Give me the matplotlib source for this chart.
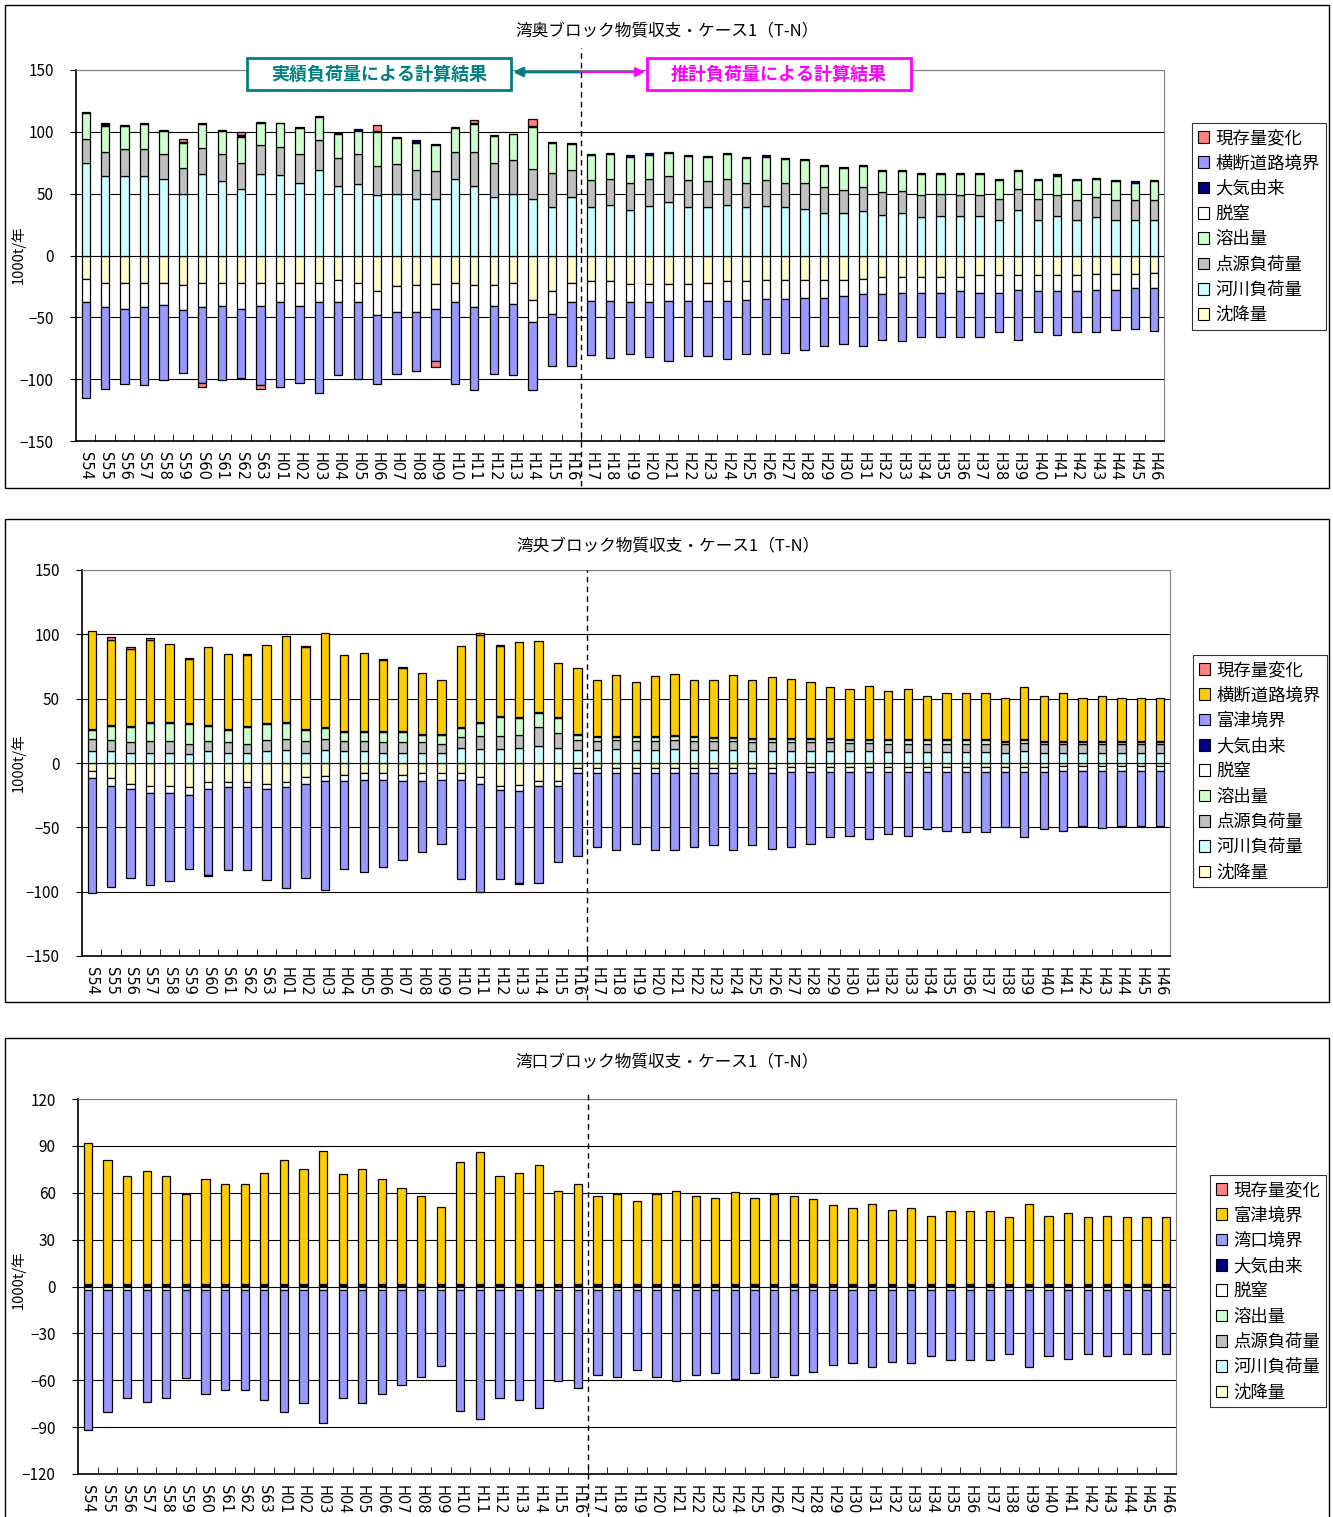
import numpy as np
import matplotlib
matplotlib.use("Agg")
import matplotlib.pyplot as plt
from matplotlib.patches import Patch, Rectangle

plt.rcParams["font.family"] = ["Noto Sans CJK JP", "DejaVu Sans"]

W, H = 1333, 1517

years = ["S54", "S55", "S56", "S57", "S58", "S59", "S60", "S61", "S62", "S63",
         "H01", "H02", "H03", "H04", "H05", "H06", "H07", "H08", "H09", "H10",
         "H11", "H12", "H13", "H14", "H15", "H16", "H17", "H18", "H19", "H20",
         "H21", "H22", "H23", "H24", "H25", "H26", "H27", "H28", "H29", "H30",
         "H31", "H32", "H33", "H34", "H35", "H36", "H37", "H38", "H39", "H40",
         "H41", "H42", "H43", "H44", "H45", "H46"]
split_after = "H16"   # 実績 / 推計 の境目

# ---- 湾奥ブロック ----
kasen1 = [75, 64, 64, 64, 62, 50, 66, 60, 54, 66, 65, 59, 69, 56, 58, 49, 50, 46, 46, 62, 56, 47, 50, 46, 39, 47,
          39, 41, 37, 40, 43, 39, 39, 41, 39, 40, 39, 38, 34, 34, 36, 33, 34, 31, 32, 32, 32, 29, 37, 29, 32, 29, 31, 29, 29, 29]
tengen1 = [19, 20, 22, 22, 20, 21, 21, 22, 21, 23, 23, 23, 24, 23, 24, 23, 24, 23, 22, 22, 28, 28, 27, 24, 28, 22,
           22, 21, 22, 22, 21, 22, 21, 21, 20, 21, 20, 21, 21, 19, 19, 18, 18, 18, 18, 17, 17, 17, 17, 17, 17, 16, 16, 16, 16, 16]
yoshutsu1 = [21, 21, 19, 20, 19, 20, 19, 19, 21, 18, 19, 21, 19, 19, 19, 28, 21, 22, 21, 19, 22, 22, 21, 34, 24, 21,
             20, 20, 21, 19.5, 19, 19.5, 19.5, 20, 20, 19, 19, 18, 17.5, 17.5, 17.5, 17, 16, 17, 16, 17, 17, 15, 14.5, 15,
             15.5, 16, 15, 15, 14, 15]
taiki1 = [1, 1, 0.5, 1, 0.5, 1, 1, 0.5, 1.5, 1, 0.5, 1, 0.5, 1, 1, 0.5, 1, 2, 1, 1, 1.5, 0.5, 0.5, 0.5, 1, 1,
          1, 1, 1, 1, 1, 1, 1, 1, 1, 1, 1, 1, 1, 1, 1, 1, 1, 1, 1, 1, 1, 1, 1, 1, 1, 1, 1, 1, 1, 1]
genzon1 = [0, 1, 0, 0, 0, 2, -3, 0, 2, -3, 0, 0, 0, 0, 0, 5, 0, 0, -5, 0, 2, 0, 0, 6, 0, 0,
           0, 0, 0, 0, 0, 0, 0, 0, 0, 0, 0, 0, 0, 0, 0, 0, 0, 0, 0, 0, 0, 0, 0, 0, 0, 0, 0, 0, 0, 0]
chinko1 = [-19, -22, -22, -22, -22, -24, -22, -22, -22, -22, -22, -22, -22, -20, -22, -29, -25, -24, -23, -22, -24, -24,
           -22, -36, -29, -22,
           -21, -21, -23, -23, -23, -23, -22, -21, -21, -20, -20, -20, -20, -20, -19, -17, -17, -17, -17, -17, -16, -16,
           -16, -16, -16, -16, -15, -15, -15, -14]
dacchitsu1 = [-19, -20, -21, -20, -18, -20, -20, -19, -21, -19, -16, -19, -16, -18, -16, -19, -21, -22, -20, -16, -18, -17,
              -17, -18, -18, -16,
              -16, -16, -15, -15, -14, -14, -15, -16, -15, -15, -15, -14, -14, -12.5, -12.5, -14, -13, -13, -13, -12, -14,
              -14, -11.5, -13, -13, -13, -12.5, -12.5, -11.5, -12.5]
oudan1 = [-77, -66, -61, -63, -61, -51, -61, -60, -56, -64, -68, -62, -73, -59, -62, -56, -50, -47, -42, -66, -67, -55,
          -58, -55, -42, -51,
          -43.5, -46, -42, -44, -48, -44, -44, -46.5, -44, -45, -43.5, -42.5, -39, -39, -41.5, -37.5, -39, -35.5, -35.5,
          -36.5, -35.5, -32, -41, -33, -35, -33, -34.5, -33, -33, -34.5]

# ---- 湾央ブロック ----
kasen2 = [9, 9, 8, 8, 8, 7, 9, 8, 8, 9, 10, 8, 10, 9, 9, 8, 8, 8, 7.5, 12, 11, 11, 12, 13, 12, 10,
          10, 10.5, 10, 10, 10.5, 10, 10, 10, 9.5, 9.5, 9.5, 9.5, 9, 9, 9, 8.5, 8.5, 8.5, 8.5, 8.5, 8.5, 8, 9, 8,
          8, 8, 8, 8, 8, 8]
tengen2 = [10, 9, 8, 9, 9, 8, 8, 8, 7, 9, 9, 9, 9, 8, 8, 8, 8, 8, 7.5, 8, 10, 10, 10, 15, 11, 8,
           7, 7, 7, 7, 7, 7, 7, 7, 7, 7, 7, 7, 7, 6.5, 6.5, 6.5, 6.5, 6.5, 6.5, 6.5, 6.5, 6.5, 6.5, 6.5, 6.5, 6.5,
           6.5, 6.5, 6.5, 6.5]
yoshutsu2 = [7, 11, 12, 14, 14, 15, 12, 10, 13, 12, 12, 9, 8, 7, 7, 8, 8, 6, 7, 7, 10, 15, 13, 11, 12, 4,
             3, 3, 3, 3, 3.5, 3, 2.5, 2.5, 2.5, 2.5, 2.5, 2.5, 2.5, 2.5, 2.5, 2.5, 2.5, 2.5, 2.5, 2.5, 2.5, 2, 2, 2,
             2, 2, 2, 2, 2, 2]
taiki2 = [0.8, 0.8, 0.8, 0.8, 0.8, 0.8, 0.8, 0.8, 0.8, 1, 0.8, 0.8, 0.8, 0.8, 0.8, 0.8, 0.8, 0.8, 0.8, 0.8, 0.8, 0.8,
          0.8, 1, 0.8, 0.8,
          0.8, 0.8, 0.8, 1, 0.8, 0.8, 0.8, 0.8, 0.8, 0.8, 0.8, 0.8, 0.8, 0.8, 0.8, 0.8, 0.8, 0.8, 0.8, 0.8, 0.8, 0.8,
          0.8, 0.8, 0.8, 0.8, 0.8, 0.8, 0.8, 0.8]
oudan2 = [76, 66, 60, 64, 61, 50, 60, 58, 55, 61, 67, 63, 73, 59, 61, 55, 49, 47, 42, 63, 68, 54, 58, 55, 42, 51,
          44, 47, 42, 47, 47, 44, 44.5, 48, 44.5, 47, 45.5, 43.5, 39.5, 38.5, 41, 38, 39.5, 34, 36, 36, 36, 33.5, 41,
          34.5, 37, 33.5, 34.5, 33.5, 33.5, 33.5]
genzon2 = [0, 2, 1, 1, 0, 1, -1, 0, 1, 0, 0, 1, 0, 0, 0, 1, 1, 0, 0, 0, 1, 1, -1, 0, 0, 0,
           0, 0, 0, 0, 0, 0, 0, 0, 0, 0, 0, 0, 0, 0, 0, 0, 0, 0, 0, 0, 0, 0, 0, 0, 0, 0, 0, 0, 0, 0]
chinko2 = [-6, -12, -16, -18, -18, -19, -15, -15, -15, -16, -15, -11, -10, -9, -8, -8, -9, -8, -8, -8, -11, -18, -17,
           -14, -14, -4,
           -3.5, -3.5, -3.5, -3.5, -3.5, -3.5, -3.5, -3.5, -3.5, -3.5, -3, -3, -3, -3, -3, -3, -3, -3, -3, -3, -3, -3,
           -3, -3, -2.5, -2.5, -2.5, -2.5, -2.5, -2.5]
dacchitsu2 = [-6, -6, -4, -5, -5, -6, -5, -4, -4, -4, -4, -5, -4, -5, -5, -5, -5, -6, -5, -5, -5, -3, -5, -4, -4, -4,
              -4.5, -4.5, -4.5, -4.5, -4.5, -4.5, -4.5, -4.5, -4.5, -4.5, -4, -4, -4, -4, -4, -4, -4, -4, -4, -4, -4,
              -4, -4, -4, -4, -4, -4, -4, -4, -4]
futtsu2 = [-89, -78, -69, -72, -69, -57, -67, -64, -64, -71, -78, -73, -85, -68, -72, -68, -61, -55, -50, -77, -84, -69,
           -71, -75, -59, -64,
           -57, -59.5, -55, -59.5, -60, -57, -55.5, -59.5, -55.5, -58.5, -58, -56, -50.5, -49.5, -52, -48.5, -49.5,
           -44, -46, -46.5, -46.5, -42.5, -50.5, -44, -46.5, -42.5, -44, -42.5, -42.5, -42.5]

# ---- 湾口ブロック ----
kasen3 = [0.4, 0.4, 0.4, 0.4, 0.4, 0.4, 0.4, 0.4, 0.4, 0.4, 0.4, 0.4, 0.4, 0.4, 0.4, 0.4, 0.4, 0.4, 0.4, 0.4,
          0.4, 0.4, 0.4, 0.4, 0.4, 0.4, 0.4, 0.4, 0.4, 0.4, 0.4, 0.4, 0.4, 0.4, 0.4, 0.4, 0.4, 0.4, 0.4, 0.4,
          0.4, 0.4, 0.4, 0.4, 0.4, 0.4, 0.4, 0.4, 0.4, 0.4, 0.4, 0.4, 0.4, 0.4, 0.4, 0.4]
tengen3 = [0.3, 0.3, 0.3, 0.3, 0.3, 0.3, 0.3, 0.3, 0.3, 0.3, 0.3, 0.3, 0.3, 0.3, 0.3, 0.3, 0.3, 0.3, 0.3, 0.3,
           0.3, 0.3, 0.3, 0.3, 0.3, 0.3, 0.3, 0.3, 0.3, 0.3, 0.3, 0.3, 0.3, 0.3, 0.3, 0.3, 0.3, 0.3, 0.3, 0.3,
           0.3, 0.3, 0.3, 0.3, 0.3, 0.3, 0.3, 0.3, 0.3, 0.3, 0.3, 0.3, 0.3, 0.3, 0.3, 0.3]
yoshutsu3 = [0.4, 0.4, 0.4, 0.4, 0.4, 0.4, 0.4, 0.4, 0.4, 0.4, 0.4, 0.4, 0.4, 0.4, 0.4, 0.4, 0.4, 0.4, 0.4, 0.4,
             0.4, 0.4, 0.4, 0.4, 0.4, 0.4, 0.3, 0.3, 0.3, 0.3, 0.3, 0.3, 0.3, 0.3, 0.3, 0.3, 0.3, 0.3, 0.3, 0.3,
             0.3, 0.3, 0.3, 0.3, 0.3, 0.3, 0.3, 0.3, 0.3, 0.3, 0.3, 0.3, 0.3, 0.3, 0.3, 0.3]
taiki3 = [0.8, 0.8, 0.8, 0.8, 0.8, 0.8, 0.8, 0.8, 0.8, 0.8, 0.8, 0.8, 0.8, 0.8, 0.8, 0.8, 0.8, 0.8, 0.8, 0.8,
          0.8, 0.8, 0.8, 0.8, 0.8, 0.8, 0.8, 0.8, 0.8, 0.8, 0.8, 0.8, 0.8, 0.8, 0.8, 0.8, 0.8, 0.8, 0.8, 0.8,
          0.8, 0.8, 0.8, 0.8, 0.8, 0.8, 0.8, 0.8, 0.8, 0.8, 0.8, 0.8, 0.8, 0.8, 0.8, 0.8]
futtsu3 = [90, 79, 69, 72, 69, 57, 67, 64, 64, 71, 79, 73, 85, 70, 73, 67, 61, 56, 49, 78, 84, 69, 71, 76, 59, 64,
           56, 57.7, 53, 57.7, 59.4, 56, 55, 58.8, 55, 57.5, 56, 54, 50.3, 48.2, 51.2, 47.4, 48.2, 43.6, 46.5, 46.5,
           46.5, 42.7, 51.2, 43.6, 45.5, 42.7, 43.6, 42.7, 42.7, 42.7]
genzon3 = [0, 0, 0, 0, 0, 0, 0, 0, 0, 0, 0, 0, 0, 0, 0, 0, 0, 0, 0, 0, 0, 0, 0, 0, 0, 0,
           0, 0, 0, 0, 0, 0, 0, 0, 0, 0, 0, 0, 0, 0, 0, 0, 0, 0, 0, 0, 0, 0, 0, 0, 0, 0, 0, 0, 0, 0]
chinko3 = [-0.6, -0.6, -0.6, -0.6, -0.6, -0.6, -0.6, -0.6, -0.6, -0.6, -0.6, -0.6, -0.6, -0.6, -0.6, -0.6, -0.6,
           -0.6, -0.6, -0.6, -0.6, -0.6, -0.6, -0.6, -0.6, -0.6, -0.6, -0.6, -0.6, -0.6, -0.6, -0.6, -0.6, -0.6,
           -0.6, -0.6, -0.6, -0.6, -0.6, -0.6, -0.6, -0.6, -0.6, -0.6, -0.6, -0.6, -0.6, -0.6, -0.6, -0.6, -0.6,
           -0.6, -0.6, -0.6, -0.6, -0.6]
dacchitsu3 = [-1.8, -1.8, -1.8, -1.8, -1.8, -1.8, -1.8, -1.8, -1.8, -1.8, -1.8, -1.8, -1.8, -1.8, -1.8, -1.8, -1.8,
              -1.8, -1.8, -1.8, -1.8, -1.8, -1.8, -1.8, -1.8, -1.8, -1.8, -1.8, -1.8, -1.8, -1.8, -1.8, -1.8, -1.8,
              -1.8, -1.8, -1.8, -1.8, -1.8, -1.8, -1.8, -1.8, -1.8, -1.8, -1.8, -1.8, -1.8, -1.8, -1.8, -1.8, -1.8,
              -1.8, -1.8, -1.8, -1.8, -1.8]
wanko3 = [-89.5, -78.2, -68.8, -71.3, -68.8, -55.9, -66.6, -63.6, -63.6, -70.2, -78.2, -72.4, -84.8, -69.2, -72.4,
          -66.6, -60.6, -55.3, -48.5, -77.1, -82.6, -68.8, -70.2, -75.2, -57.9, -62.5,
          -54, -55.7, -51.1, -55.7, -57.9, -54, -53, -57, -53, -55.7, -54, -52.1, -48.1, -46.4, -49.4, -45.6, -46.4,
          -41.8, -44.5, -44.5, -44.5, -40.5, -49.4, -41.8, -43.7, -40.5, -41.8, -40.5, -40.5, -40.5]

C_GENZON = "#FF8080"
C_BLUE = "#9999FF"
C_ORANGE = "#FFCC00"
C_TAIKI = "#000080"
C_DACCHI = "#FFFFFF"
C_YOSHU = "#CCFFCC"
C_TENGEN = "#C0C0C0"
C_KASEN = "#CCFFFF"
C_CHINKO = "#FFFFCC"

# series in Excel order (first = bottom of stack), legend shows them reversed
panel1 = [("沈降量", chinko1, C_CHINKO), ("河川負荷量", kasen1, C_KASEN), ("点源負荷量", tengen1, C_TENGEN),
          ("溶出量", yoshutsu1, C_YOSHU), ("脱窒", dacchitsu1, C_DACCHI), ("大気由来", taiki1, C_TAIKI),
          ("横断道路境界", oudan1, C_BLUE), ("現存量変化", genzon1, C_GENZON)]
panel2 = [("沈降量", chinko2, C_CHINKO), ("河川負荷量", kasen2, C_KASEN), ("点源負荷量", tengen2, C_TENGEN),
          ("溶出量", yoshutsu2, C_YOSHU), ("脱窒", dacchitsu2, C_DACCHI), ("大気由来", taiki2, C_TAIKI),
          ("富津境界", futtsu2, C_BLUE), ("横断道路境界", oudan2, C_ORANGE), ("現存量変化", genzon2, C_GENZON)]
panel3 = [("沈降量", chinko3, C_CHINKO), ("河川負荷量", kasen3, C_KASEN), ("点源負荷量", tengen3, C_TENGEN),
          ("溶出量", yoshutsu3, C_YOSHU), ("脱窒", dacchitsu3, C_DACCHI), ("大気由来", taiki3, C_TAIKI),
          ("湾口境界", wanko3, C_BLUE), ("富津境界", futtsu3, C_ORANGE), ("現存量変化", genzon3, C_GENZON)]


def fx(px):
    return px / W


def fy(py):
    return 1 - py / H


def draw_panel(ax, series, ymax, step, title, title_xy, leg_anchor, dash_lim):
    x = np.arange(len(years))
    pos_base = np.zeros(len(years))
    neg_base = np.zeros(len(years))
    for name, vals, color in series:
        v = np.asarray(vals, dtype=float)
        for mask, base in ((v > 0, pos_base), (v < 0, neg_base)):
            if mask.any():
                ax.bar(x[mask], v[mask], bottom=base[mask], width=0.42, color=color,
                       edgecolor="black", linewidth=0.9, zorder=3)
                base[mask] += v[mask]

    ax.set_xlim(-0.5, len(years) - 0.5)
    ax.set_ylim(-ymax, ymax)
    ax.set_yticks(np.arange(-ymax, ymax + 1, step))
    ax.yaxis.grid(True, color="black", linewidth=0.8, zorder=0)
    ax.set_axisbelow(True)
    ax.tick_params(axis="y", direction="out", length=4, labelsize=11, pad=12)
    ax.set_xticks(x)
    ax.set_xticklabels(years, rotation=270, fontsize=10.5, family=["DejaVu Sans"])
    ax.tick_params(axis="x", length=0, pad=8)
    ax.set_xticks(x[:-1] + 0.5, minor=True)
    ax.tick_params(axis="x", which="minor", direction="in", length=5)
    for s in ("top", "right"):
        ax.spines[s].set_color("#808080")
    for s in ("left", "bottom"):
        ax.spines[s].set_color("black")
        ax.spines[s].set_linewidth(1.2)

    xs = years.index(split_after) + 0.5
    ax.plot([xs, xs], dash_lim, transform=ax.get_xaxis_transform(), clip_on=False,
            color="black", linestyle=(0, (4, 3)), linewidth=1, zorder=5)

    handles = [Patch(facecolor=c, edgecolor="black", linewidth=0.8, label=n) for n, _, c in reversed(series)]
    leg = ax.legend(handles=handles, loc="upper left", bbox_to_anchor=leg_anchor, borderaxespad=0,
                    fontsize=12.5, frameon=True, fancybox=False, edgecolor="black",
                    handlelength=0.65, handleheight=0.65, handletextpad=0.35, labelspacing=0.42,
                    borderpad=0.35)
    leg.get_frame().set_linewidth(0.8)

    fig.text(fx(title_xy[0]), fy(title_xy[1]), title, ha="center", va="center", fontsize=12)


fig = plt.figure(figsize=(W / 100, H / 100), dpi=100)

# outer frames of the three charts
for top, bot in ((5, 488), (519, 1002), (1038, 1530)):
    fig.add_artist(Rectangle((fx(5), fy(bot)), fx(1324), (bot - top) / H, transform=fig.transFigure,
                             facecolor="none", edgecolor="black", linewidth=1))

ax1 = fig.add_axes([fx(76), fy(441), fx(1088), 371 / H])
ax2 = fig.add_axes([fx(82), fy(956), fx(1088), 386 / H])
ax3 = fig.add_axes([fx(78), fy(1474), fx(1098), 375 / H])

draw_panel(ax1, panel1, 150, 50, "湾奥ブロック物質収支・ケース1（T-N）", (667, 31),
           ((1192 - 76) / 1088, (441 - 123) / 371), [-0.12, 1.06])
draw_panel(ax2, panel2, 150, 50, "湾央ブロック物質収支・ケース1（T-N）", (668, 546),
           ((1193 - 82) / 1088, (956 - 655) / 386), [-0.115, 1.0])
draw_panel(ax3, panel3, 120, 30, "湾口ブロック物質収支・ケース1（T-N）", (667, 1062),
           ((1210 - 78) / 1098, (1474 - 1175) / 375), [-0.12, 1.015])

for yc in (255, 763, 1280):
    fig.text(fx(18), fy(yc), "1000t/年", rotation=90, ha="center", va="center", fontsize=10.5)

# annotation boxes on the top chart
ax1.annotate("", xy=(513, H - 72), xytext=(580, H - 72), xycoords="figure pixels",
             textcoords="figure pixels",
             arrowprops=dict(arrowstyle="-|>", color="#008080", lw=2, mutation_scale=14, shrinkA=0, shrinkB=0))
ax1.annotate("", xy=(645, H - 72), xytext=(580, H - 72), xycoords="figure pixels",
             textcoords="figure pixels",
             arrowprops=dict(arrowstyle="-|>", color="#FF00FF", lw=1.5, mutation_scale=14, shrinkA=0, shrinkB=0))
for x0, x1, color, label in ((247, 511, "#008080", "実績負荷量による計算結果"),
                             (647, 911, "#FF00FF", "推計負荷量による計算結果")):
    fig.add_artist(Rectangle((fx(x0), fy(90)), fx(x1 - x0), 32 / H, transform=fig.transFigure,
                             facecolor="white", edgecolor=color, linewidth=2, zorder=10))
    fig.text(fx((x0 + x1) / 2), fy(74), label, ha="center", va="center", fontsize=13,
             fontweight="bold", color=color, zorder=11)

fig.savefig("out.png", dpi=100)
